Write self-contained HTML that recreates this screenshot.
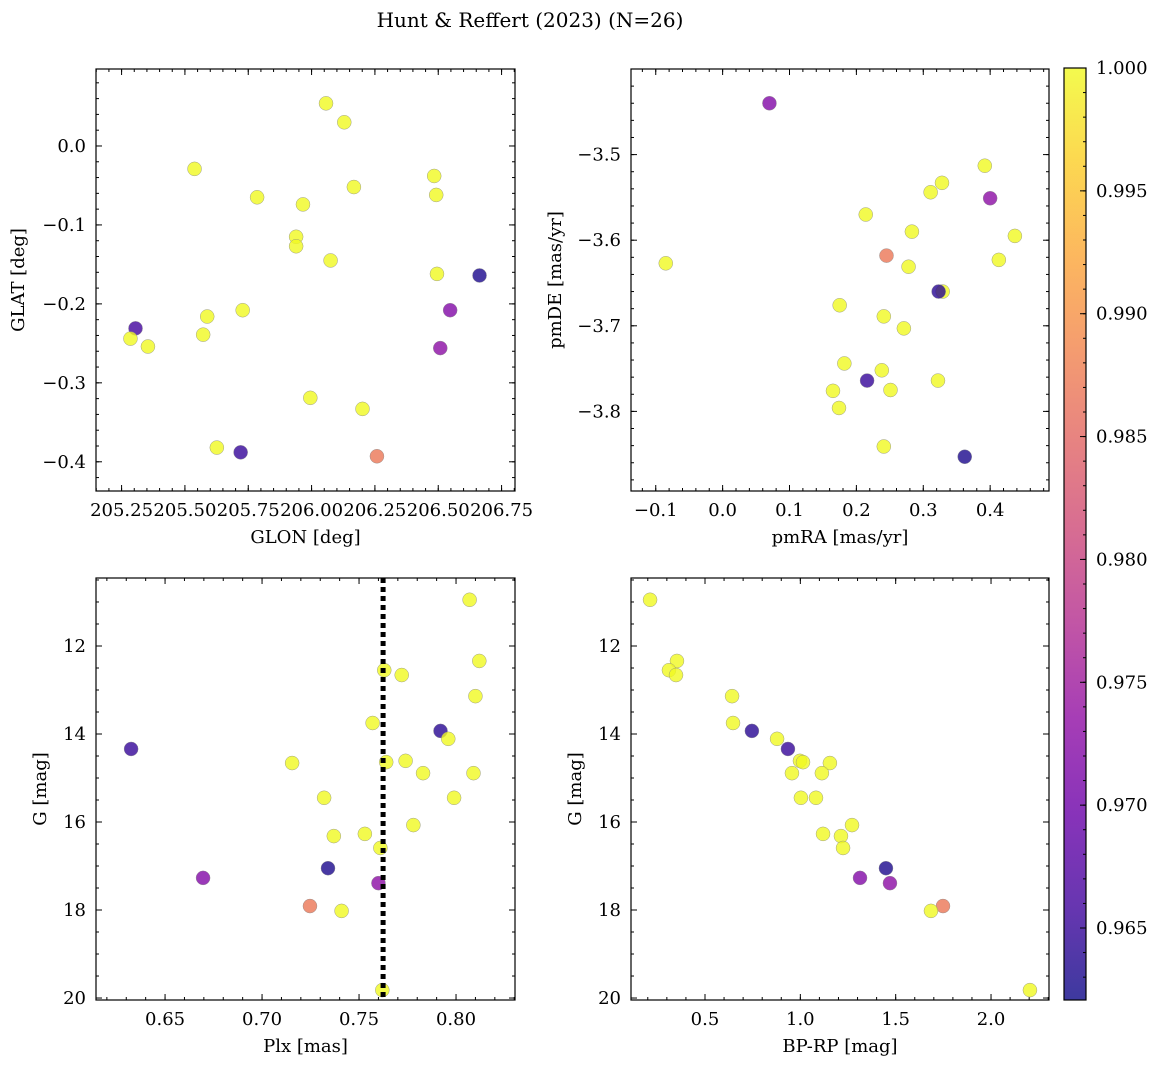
<!DOCTYPE html>
<html><head><meta charset="utf-8"><style>
html,body{margin:0;padding:0;background:#fff;}
svg{display:block;font-family:"DejaVu Serif","Liberation Serif",serif;}
</style></head><body>
<svg id="fig" width="1161" height="1068" viewBox="0 0 1161 1068">
<defs>
<linearGradient id="plasma" x1="0" y1="1" x2="0" y2="0"></linearGradient>
</defs>
<text x="530" y="27" text-anchor="middle" font-size="20">Hunt &amp; Reffert (2023) (N=26)</text>
</svg>
<script>
// ---- data ----
const glon = [206.057,206.129,205.538,206.484,206.492,206.167,205.785,205.966,205.939,205.939,206.075,206.495,206.663,206.547,206.508,205.728,205.588,205.572,205.305,205.285,205.354,205.995,206.201,205.626,205.720,206.258];
const glat = [0.054,0.030,-0.029,-0.038,-0.062,-0.052,-0.065,-0.074,-0.115,-0.127,-0.145,-0.162,-0.164,-0.208,-0.256,-0.208,-0.216,-0.239,-0.231,-0.244,-0.254,-0.319,-0.333,-0.382,-0.388,-0.393];
const probTL = [1,1,1,1,1,1,1,1,1,1,1,1,0.963,0.972,0.973,1,1,1,0.966,1,1,1,1,1,0.965,0.987];

const pmra = [0.070,0.392,0.328,0.311,0.400,0.437,0.214,0.283,-0.085,0.245,0.413,0.278,0.329,0.323,0.175,0.241,0.271,0.182,0.238,0.216,0.322,0.165,0.251,0.174,0.241,0.362];
const pmde = [-3.440,-3.513,-3.533,-3.544,-3.551,-3.595,-3.570,-3.590,-3.627,-3.618,-3.623,-3.631,-3.660,-3.660,-3.676,-3.689,-3.703,-3.744,-3.752,-3.764,-3.764,-3.776,-3.775,-3.796,-3.841,-3.853];
const probTR = [0.972,1,1,1,0.973,1,1,1,1,0.987,1,1,1,0.964,1,1,1,1,1,0.965,1,1,1,1,1,0.963];

const plx = [0.807,0.812,0.763,0.772,0.810,0.757,0.792,0.796,0.6325,0.7155,0.774,0.764,0.783,0.809,0.732,0.799,0.778,0.737,0.753,0.761,0.734,0.6696,0.760,0.7247,0.741,0.762];
const gmag = [10.95,12.34,12.55,12.66,13.14,13.75,13.93,14.11,14.34,14.66,14.61,14.64,14.89,14.89,15.45,15.45,16.07,16.32,16.27,16.59,17.05,17.27,17.39,17.91,18.02,19.82];
const bprp = [0.212,0.353,0.311,0.348,0.642,0.647,0.746,0.878,0.935,1.155,0.998,1.014,0.956,1.113,1.003,1.082,1.271,1.213,1.119,1.224,1.449,1.313,1.470,1.748,1.685,2.204];
const probG = [1,1,1,1,1,1,0.964,1,0.965,1,1,1,1,1,1,1,1,1,1,1,0.963,0.972,0.973,0.987,1,1];

const ticksGLON = [205.25,205.50,205.75,206.00,206.25,206.50,206.75];
const ticksGLAT = [0.0,-0.1,-0.2,-0.3,-0.4];
const ticksPMRA = [-0.1,0.0,0.1,0.2,0.3,0.4];
const ticksPMDE = [-3.5,-3.6,-3.7,-3.8];
const ticksPLX = [0.65,0.70,0.75,0.80];
const ticksG = [12,14,16,18,20];
const ticksBPRP = [0.5,1.0,1.5,2.0];
const ticksCB = [0.965,0.970,0.975,0.980,0.985,0.990,0.995,1.000];
const plxLine = 0.7624;
const cbMin = 0.96207, cbMax = 1.0;

const NS="http://www.w3.org/2000/svg";
const svg=document.getElementById('fig');
function mk(tag,attrs,parent){const e=document.createElementNS(NS,tag);for(const k in attrs)e.setAttribute(k,attrs[k]);(parent||svg).appendChild(e);return e;}

const stops=[[0,'#0d0887'],[0.1,'#41049d'],[0.2,'#6a00a8'],[0.3,'#8f0da4'],[0.4,'#b12a90'],[0.5,'#cc4778'],[0.6,'#e16462'],[0.7,'#f2844b'],[0.8,'#fca636'],[0.9,'#fcce25'],[1,'#f0f921']];
function hex(h){return [parseInt(h.slice(1,3),16),parseInt(h.slice(3,5),16),parseInt(h.slice(5,7),16)];}
function plasma(t){t=Math.max(0,Math.min(1,t));for(let i=1;i<stops.length;i++){if(t<=stops[i][0]){const a=stops[i-1],b=stops[i];const f=(t-a[0])/(b[0]-a[0]);const ca=hex(a[1]),cb=hex(b[1]);return 'rgb('+ca.map((v,j)=>Math.round(v+(cb[j]-v)*f)).join(',')+')';}}return stops[10][1];}
function cmap(p){return plasma((p-cbMin)/(cbMax-cbMin));}

const grad=document.getElementById('plasma');
stops.forEach(s=>{mk('stop',{offset:s[0],'stop-color':s[1],'stop-opacity':0.8},grad);});

function fmt(v,d){const s=v.toFixed(d);return s.replace('-','\u2212');}
const FS=18;

function panel(o){
  const g=mk('g',{});
  
  
  const X=v=>o.L+(v-o.xmin)/(o.xmax-o.xmin)*(o.R-o.L);
  const Y=o.yinv? v=>o.T+(v-o.ymin)/(o.ymax-o.ymin)*(o.B-o.T) : v=>o.B-(v-o.ymin)/(o.ymax-o.ymin)*(o.B-o.T);
  const tg=mk('g',{stroke:'#000','stroke-width':1},g);
  o.xt.forEach(v=>{const x=X(v);mk('line',{x1:x,x2:x,y1:o.B,y2:o.B-6},tg);mk('line',{x1:x,x2:x,y1:o.T,y2:o.T+6},tg);
    const t=mk('text',{x:x,y:o.B+25,'text-anchor':'middle','font-size':FS,stroke:'none'},g);t.textContent=fmt(v,o.xd);
    });
  const xs=(o.xt[1]-o.xt[0])/o.xm;
  for(let v=o.xt[0]-10*xs*o.xm;v<=o.xmax;v+=xs){if(v<o.xmin)continue;const x=X(v);mk('line',{x1:x,x2:x,y1:o.B,y2:o.B-3},tg);mk('line',{x1:x,x2:x,y1:o.T,y2:o.T+3},tg);}
  o.yt.forEach(v=>{const y=Y(v);mk('line',{x1:o.L,x2:o.L+6,y1:y,y2:y},tg);mk('line',{x1:o.R,x2:o.R-6,y1:y,y2:y},tg);
    const t=mk('text',{x:o.L-10,y:y+6,'text-anchor':'end','font-size':FS,stroke:'none'},g);t.textContent=fmt(v,o.yd);
    });
  const ys=Math.abs(o.yt[1]-o.yt[0])/o.ym;
  const ylo=Math.min(...o.yt);
  for(let v=ylo-20*ys*o.ym;v<=o.ymax;v+=ys){if(v<o.ymin)continue;const y=Y(v);mk('line',{x1:o.L,x2:o.L+3,y1:y,y2:y},tg);mk('line',{x1:o.R,x2:o.R-3,y1:y,y2:y},tg);}
  o.xs.forEach((xv,i)=>{const c=mk('circle',{cx:X(xv),cy:Y(o.ys[i]),r:7,fill:cmap(o.p[i]),'fill-opacity':0.8,stroke:'#888','stroke-width':0.5,'stroke-opacity':0.8},g);
    });
  if(o.vline!==undefined){const l=mk('line',{x1:X(o.vline),x2:X(o.vline),y1:o.T,y2:o.B,stroke:'#000','stroke-width':5,'stroke-dasharray':'5,4'},g);
    }
  const f=mk('rect',{x:o.L,y:o.T,width:o.R-o.L,height:o.B-o.T,fill:'none',stroke:'#000','stroke-width':1.2},g);
  
  const xl=mk('text',{x:(o.L+o.R)/2,y:o.B+52,'text-anchor':'middle','font-size':FS},g);xl.textContent=o.xlab;
  
  const yx=o.L-o.ylo,yy=(o.T+o.B)/2;
  const yl=mk('text',{x:yx,y:yy,'text-anchor':'middle','font-size':FS,transform:'rotate(-90 '+yx+' '+yy+')'},g);yl.textContent=o.ylab;
  
}

panel({name:'glon-glat-panel',L:96,R:515,T:69,B:491,xmin:205.149,xmax:206.803,ymin:-0.437,ymax:0.0975,xt:ticksGLON,yt:ticksGLAT,xd:2,yd:1,xm:5,ym:5,xs:glon,ys:glat,p:probTL,xlab:'GLON [deg]',ylab:'GLAT [deg]',ylo:72});
panel({name:'pm-panel',L:631,R:1049,T:69,B:491,xmin:-0.137,xmax:0.488,ymin:-3.893,ymax:-3.40,xt:ticksPMRA,yt:ticksPMDE,xd:1,yd:1,xm:5,ym:5,xs:pmra,ys:pmde,p:probTR,xlab:'pmRA [mas/yr]',ylab:'pmDE [mas/yr]',ylo:70});
panel({name:'plx-g-panel',L:96,R:515,T:578,B:1000,xmin:0.6144,xmax:0.8304,ymin:10.455,ymax:20.045,yinv:true,xt:ticksPLX,yt:ticksG,xd:2,yd:0,xm:5,ym:4,xs:plx,ys:gmag,p:probG,xlab:'Plx [mas]',ylab:'G [mag]',ylo:50,vline:plxLine});
panel({name:'cmd-panel',L:631,R:1049,T:578,B:1000,xmin:0.112,xmax:2.304,ymin:10.455,ymax:20.045,yinv:true,xt:ticksBPRP,yt:ticksG,xd:1,yd:0,xm:5,ym:4,xs:bprp,ys:gmag,p:probG,xlab:'BP-RP [mag]',ylab:'G [mag]',ylo:50});

// colorbar
const cb=mk('g',{});


const cT=68,cB=1000,cL=1064,cR=1086;
mk('rect',{x:cL,y:cT,width:cR-cL,height:cB-cT,fill:'url(#plasma)'},cb);
const CY=v=>cB-(v-cbMin)/(cbMax-cbMin)*(cB-cT);
for(let v=0.962;v<=1.0001;v+=0.001){if(v<cbMin)continue;const y=CY(v);mk('line',{x1:cR,x2:cR-3,y1:y,y2:y,stroke:'#000'},cb);}
ticksCB.forEach(v=>{const y=CY(v);mk('line',{x1:cR,x2:cR-6,y1:y,y2:y,stroke:'#000'},cb);
  const t=mk('text',{x:cR+10,y:y+6,'font-size':FS},cb);t.textContent=v.toFixed(3);
  });
mk('rect',{x:cL,y:cT,width:cR-cL,height:cB-cT,fill:'none',stroke:'#000','stroke-width':1.2},cb);
</script>
</body></html>
